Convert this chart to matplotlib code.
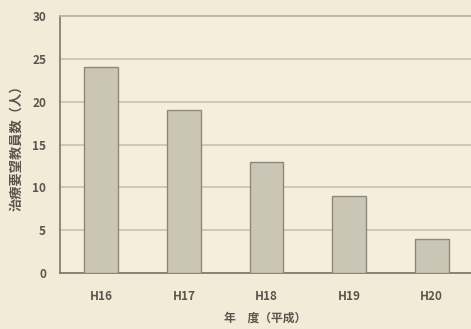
import matplotlib
matplotlib.use("Agg")
import matplotlib.pyplot as plt

plt.rcParams['font.family'] = ['Noto Sans CJK JP', 'DejaVu Sans']

years = ["H16", "H17", "H18", "H19", "H20"]
counts = [24, 19, 13, 9, 4]
yticks = [0, 5, 10, 15, 20, 25, 30]

bg = "#f2ebd7"
fig = plt.figure(figsize=(4.71, 3.29), dpi=100)
fig.patch.set_facecolor(bg)
ax = fig.add_axes([60 / 471, 56 / 329, 413 / 471, 257 / 329])
ax.set_facecolor("#f5eedc")

x = range(len(years))
ax.bar(x, counts, width=0.41, color="#cbc5b6", edgecolor="#8d887c", linewidth=1.0, zorder=3)

ax.set_xlim(-0.5, 4.5)
ax.set_ylim(0, 30)
ax.set_yticks(yticks)
ax.yaxis.grid(True, color="#c8c1ad", linewidth=1.2, zorder=0, clip_on=False)
ax.set_axisbelow(True)

ax.spines["right"].set_visible(False)
ax.spines["top"].set_color("#bdb6a2")
ax.spines["top"].set_linewidth(1.2)
ax.spines["left"].set_color("#7d786d")
ax.spines["bottom"].set_color("#7d786d")
ax.spines["left"].set_linewidth(1.2)
ax.spines["bottom"].set_linewidth(1.2)

ax.set_xticks(list(x))
ax.set_xticklabels(years)
ax.tick_params(axis="both", length=0, labelsize=8.5, labelcolor="#5a564e")
ax.tick_params(axis="y", pad=10)
ax.tick_params(axis="x", pad=12)
for lbl in ax.get_xticklabels() + ax.get_yticklabels():
    lbl.set_fontweight("bold")

ax.set_ylabel("治療要望教員数（人）", fontsize=9.5, color="#5a564e", fontweight="bold", labelpad=6)
fig.text(265 / 471, 1 - 318 / 329, "年　度（平成）", ha="center", va="center",
         fontsize=8.5, color="#5a564e", fontweight="bold")

fig.savefig("out.png", dpi=100, facecolor=bg)
